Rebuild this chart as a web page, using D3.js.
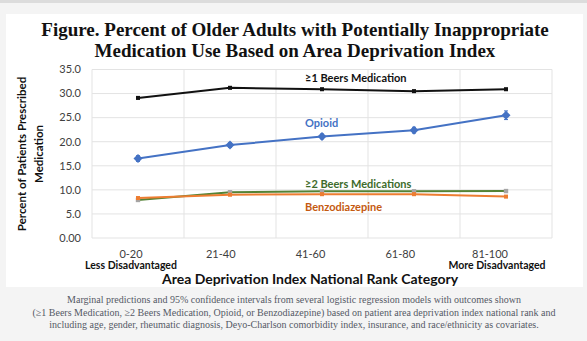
<!DOCTYPE html>
<html>
<head>
<meta charset="utf-8">
<script src="https://cdn.jsdelivr.net/npm/d3@7"></script>
<style>
  html, body { margin: 0; padding: 0; background: #f4f4f4; }
  svg { display: block; }
</style>
</head>
<body>
<svg id="chart"></svg>
<script>
const categories = ["0-20", "21-40", "41-60", "61-80", "81-100"];
const yTicks = [0, 5, 10, 15, 20, 25, 30, 35];

const beers1 = [29.1, 31.2, 30.9, 30.5, 30.9];
const beers1Err = [0.2, 0.2, 0.2, 0.2, 0.2];
const opioid = [16.5, 19.3, 21.1, 22.4, 25.5];
const opioidErr = [0.6, 0.5, 0.5, 0.6, 0.9];
const beers2 = [7.9, 9.5, 9.7, 9.7, 9.75];
const beers2Err = [0.2, 0.2, 0.2, 0.2, 0.3];
const benzo = [8.3, 9.0, 9.1, 9.1, 8.6];
const benzoErr = [0.2, 0.2, 0.2, 0.2, 0.2];

const series = [
  { name: "≥1 Beers Medication", values: beers1, err: beers1Err, color: "#111111", marker: "#111111", labelColor: "#111111", labelAt: 33.2, r: 2 },
  { name: "Opioid", values: opioid, err: opioidErr, color: "#4472c4", marker: "#4472c4", labelColor: "#4472c4", labelAt: 23.8, r: 3.2 },
  { name: "≥2 Beers Medications", values: beers2, err: beers2Err, color: "#548235", marker: "#a5a5a5", labelColor: "#3d6b2b", labelAt: 11.2, r: 2.2 },
  { name: "Benzodiazepine", values: benzo, err: benzoErr, color: "#ed7d31", marker: "#ed7d31", labelColor: "#c55a11", labelAt: 6.5, r: 2 }
];

const captionLines = [
  "Marginal predictions and 95% confidence intervals from several logistic regression models with outcomes shown",
  "(≥1 Beers Medication, ≥2 Beers Medication, Opioid, or Benzodiazepine) based on patient area deprivation index national rank and",
  "including age, gender, rheumatic diagnosis, Deyo-Charlson comorbidity index, insurance, and race/ethnicity as covariates."
];

const W = 587, H = 341;
const plot = { left: 92, right: 552, top: 69.5, bottom: 238 };
const sans = "Lato, 'Open Sans', sans-serif";

const svg = d3.select("#chart").attr("width", W).attr("height", H);

// page background and white slide panel
svg.append("rect").attr("width", W).attr("height", H).attr("fill", "#f4f4f4");
svg.append("rect").attr("x", 0).attr("y", 0).attr("width", W).attr("height", 3).attr("fill", "#dcdcdc");
svg.append("rect").attr("x", 6).attr("y", 14).attr("width", 577).attr("height", 273).attr("fill", "#ffffff");

const title = svg.append("text")
  .attr("text-anchor", "middle")
  .attr("font-family", "'Liberation Serif', 'DejaVu Serif', serif")
  .attr("font-weight", "bold")
  .attr("font-size", 19)
  .attr("fill", "#111");
title.append("tspan").attr("x", 295).attr("y", 36).text("Figure. Percent of Older Adults with Potentially Inappropriate");
title.append("tspan").attr("x", 295).attr("y", 57).text("Medication Use Based on Area Deprivation Index");

const x = d3.scaleBand().domain(categories).range([plot.left, plot.right]);
const y = d3.scaleLinear().domain([0, 35]).range([plot.bottom, plot.top]);
// category labels sit a little left of the band centres
const xLabel = d3.scalePoint().domain(categories).range([131, 490]);
const cx = c => x(c) + x.bandwidth() / 2;

const g = svg.append("g");

// gridlines
g.selectAll(".hgrid").data(yTicks).enter().append("line")
  .attr("x1", plot.left).attr("x2", plot.right)
  .attr("y1", d => y(d)).attr("y2", d => y(d))
  .attr("stroke", "#e3e3e3").attr("stroke-width", 1);
const edges = categories.map(c => x(c)).concat([plot.right]);
g.selectAll(".vgrid").data(edges).enter().append("line")
  .attr("x1", d => d).attr("x2", d => d)
  .attr("y1", plot.top).attr("y2", plot.bottom)
  .attr("stroke", "#e3e3e3").attr("stroke-width", 1);

// y tick labels
g.selectAll(".ytick").data(yTicks).enter().append("text")
  .attr("x", 81).attr("y", d => y(d))
  .attr("dy", "0.35em")
  .attr("text-anchor", "end")
  .attr("font-family", sans).attr("font-size", 11)
  .attr("fill", "#404040")
  .text(d => d === 0 ? "0.00" : d3.format(".1f")(d));

// x tick labels
g.selectAll(".xtick").data(categories).enter().append("text")
  .attr("x", d => xLabel(d)).attr("y", 254)
  .attr("dy", "0.35em")
  .attr("text-anchor", "middle")
  .attr("font-family", sans).attr("font-size", 11)
  .attr("fill", "#404040")
  .text(d => d);

g.append("text").attr("x", xLabel(categories[0])).attr("y", 265).attr("dy", "0.35em")
  .attr("text-anchor", "middle").attr("font-family", sans).attr("font-size", 10.5)
  .attr("font-weight", "bold").attr("fill", "#111").text("Less Disadvantaged");
g.append("text").attr("x", xLabel(categories[4]) + 7).attr("y", 265).attr("dy", "0.35em")
  .attr("text-anchor", "middle").attr("font-family", sans).attr("font-size", 10.5)
  .attr("font-weight", "bold").attr("fill", "#111").text("More Disadvantaged");

g.append("text").attr("x", 310).attr("y", 279).attr("dy", "0.35em")
  .attr("text-anchor", "middle").attr("font-family", sans).attr("font-size", 14)
  .attr("font-weight", "bold").attr("fill", "#111")
  .text("Area Deprivation Index National Rank Category");

const yTitle = g.append("text")
  .attr("transform", "translate(22,154) rotate(-90)")
  .attr("text-anchor", "middle")
  .attr("font-family", sans).attr("font-size", 11.5)
  .attr("font-weight", "bold").attr("fill", "#111");
yTitle.append("tspan").attr("x", 0).attr("y", 0).attr("dy", "0.35em").text("Percent of Patients Prescribed");
yTitle.append("tspan").attr("x", 0).attr("y", 17).attr("dy", "0.35em").text("Medication");

// series lines, error bars and markers
const line = d3.line().x((d, i) => cx(categories[i])).y(d => y(d));

series.forEach(s => {
  const sg = g.append("g");
  sg.append("path").datum(s.values)
    .attr("d", line)
    .attr("fill", "none")
    .attr("stroke", s.color)
    .attr("stroke-width", 2);

  sg.selectAll(".err").data(s.values).enter().append("path")
    .attr("d", (d, i) => {
      const px = cx(categories[i]);
      const lo = y(d - s.err[i]), hi = y(d + s.err[i]);
      return `M${px - 2},${hi}H${px + 2}M${px},${hi}V${lo}M${px - 2},${lo}H${px + 2}`;
    })
    .attr("fill", "none")
    .attr("stroke", s.marker)
    .attr("stroke-width", 1);

  sg.selectAll(".pt").data(s.values).enter().append("rect")
    .attr("x", (d, i) => cx(categories[i]) - s.r)
    .attr("y", d => y(d) - s.r)
    .attr("width", s.r * 2).attr("height", s.r * 2)
    .attr("transform", (d, i) => s.name === "Opioid"
      ? `rotate(45,${cx(categories[i])},${y(d)})` : null)
    .attr("fill", s.marker);

  g.append("text")
    .attr("x", cx(categories[2]) - 17)
    .attr("y", y(s.labelAt))
    .attr("dy", "0.35em")
    .attr("font-family", sans).attr("font-size", 11)
    .attr("font-weight", "bold")
    .attr("fill", s.labelColor)
    .text(s.name);
});

// caption below the panel
svg.append("g").selectAll("text").data(captionLines).enter().append("text")
  .attr("x", 294).attr("y", (d, i) => 303 + i * 12.5)
  .attr("text-anchor", "middle")
  .attr("font-family", "'Liberation Serif', 'DejaVu Serif', serif")
  .attr("font-size", 10)
  .attr("fill", "#555a66")
  .text(d => d);
</script>
</body>
</html>
